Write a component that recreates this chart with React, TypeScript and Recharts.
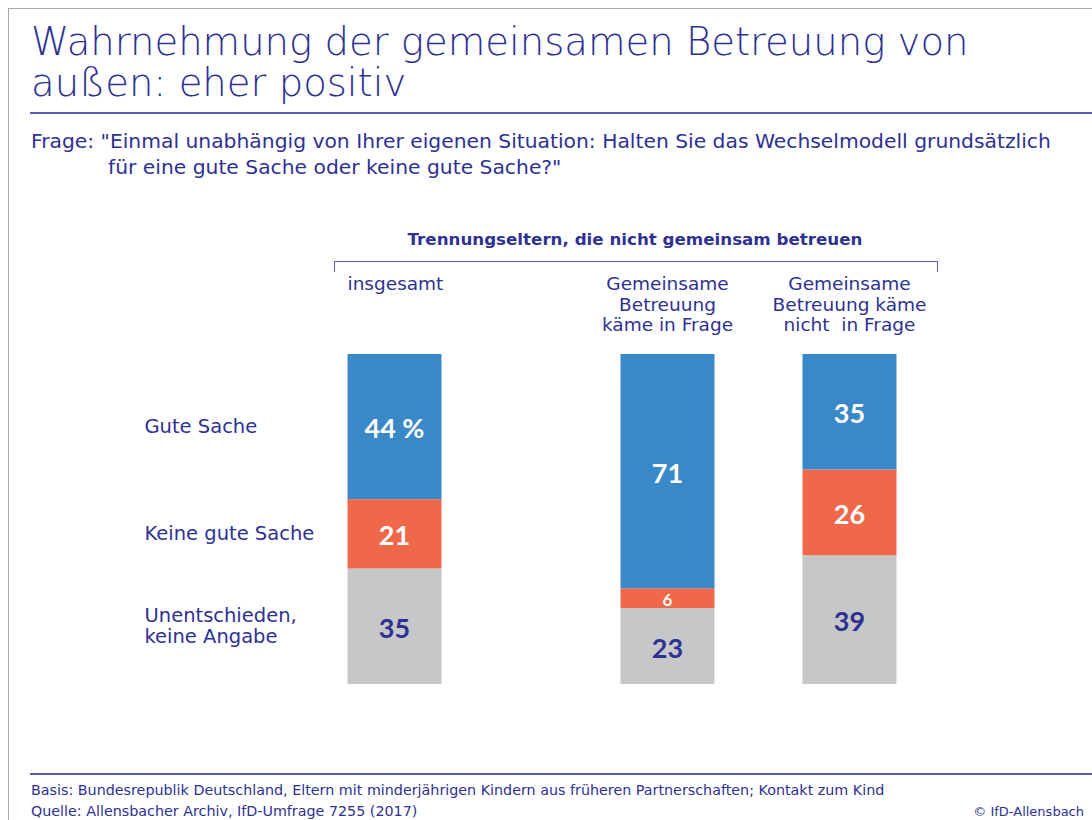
import { BarChart, Bar, XAxis, YAxis, LabelList } from 'recharts';

const BLUE = '#3A88C8';
const ORANGE = '#F0684A';
const GREY = '#C6C7C9';
const NAVY = '#2E3192';
const FONT = '"DejaVu Sans", sans-serif';
const NUM_FONT = 'Lato, "DejaVu Sans", sans-serif';

// category slots; empty ones only keep the gaps between the bars
const categories = ['insgesamt', '', '', 'Gemeinsame Betreuung käme in Frage', '', 'Gemeinsame Betreuung käme nicht  in Frage'];
const categoryLines = [['insgesamt'], [], [], ['Gemeinsame', 'Betreuung', 'käme in Frage'], [], ['Gemeinsame', 'Betreuung käme', 'nicht  in Frage']];
const guteSache = [44, null, null, 71, null, 35];
const keineGuteSache = [21, null, null, 6, null, 26];
const unentschieden = [35, null, null, 23, null, 39];
const rowLabels = {
  gute: ['Gute Sache'],
  keine: ['Keine gute Sache'],
  unent: ['Unentschieden,', 'keine Angabe'],
};

const data = categories.map((name, i) => ({
  name,
  gute: guteSache[i],
  keine: keineGuteSache[i],
  unent: unentschieden[i],
}));

// bars are a little wider than the category band
const WideBar = (props: any) => {
  const { x, y, width, height, fill } = props;
  if (!height) return null;
  const cx = x + width / 2;
  return <rect x={cx - 47} y={y} width={94} height={height} fill={fill} />;
};

function valueLabel(key: 'gute' | 'keine' | 'unent', color: string) {
  return (props: any) => {
    const { x, y, width, height, value, index } = props;
    if (value == null) return null;
    const cx = x + width / 2;
    const small = height < 30;
    const txt = key === 'gute' && index === 0 ? `${value} %` : `${value}`;
    const lines = rowLabels[key];
    return (
      <g>
        <text
          x={cx}
          y={y + height / 2 + 1}
          textAnchor="middle"
          dominantBaseline="central"
          fill={color}
          fontFamily={NUM_FONT}
          fontWeight="bold"
          fontSize={small ? 17 : 27}
        >
          {txt}
        </text>
        {index === 0 && (
          <text x={cx - 250} y={y + height / 2 - (lines.length - 1) * 10.5} fill={NAVY} fontFamily={FONT} fontSize={19.5}>
            {lines.map((l, j) => (
              <tspan key={j} x={cx - 250} dy={j === 0 ? 0 : 21} dominantBaseline="central">
                {l}
              </tspan>
            ))}
          </text>
        )}
      </g>
    );
  };
}

function CategoryTick(props: any) {
  const { x, y, index } = props;
  const lines = categoryLines[index] || [];
  if (!lines.length) return null;
  const first = index === 0;
  const tx = first ? x - 47 : x;
  return (
    <text
      x={tx}
      y={y - 56}
      textAnchor={first ? 'start' : 'middle'}
      fill={NAVY}
      fontFamily={FONT}
      fontSize={18.5}
      style={{ whiteSpace: 'pre' }}
    >
      {lines.map((l, j) => (
        <tspan key={j} x={tx} dy={j === 0 ? 0 : 20.5}>
          {l}
        </tspan>
      ))}
    </text>
  );
}

export default function App() {
  return (
    <div style={{ position: 'absolute', left: 0, top: 0, width: 1092, height: 820, background: '#fff', fontFamily: FONT, color: NAVY }}>
      <div style={{ position: 'absolute', left: 8, top: 8, right: 0, height: 1, background: '#A8A8A8' }} />
      <div style={{ position: 'absolute', left: 8, top: 8, width: 1, bottom: 0, background: '#A8A8A8' }} />

      <div style={{ position: 'absolute', left: 31, top: 23, fontSize: 38.6, lineHeight: '38px', fontWeight: 200, whiteSpace: 'nowrap' }}>
        Wahrnehmung der gemeinsamen Betreuung von
      </div>
      <div style={{ position: 'absolute', left: 31, top: 64, fontSize: 38.6, lineHeight: '38px', fontWeight: 200, whiteSpace: 'nowrap' }}>
        außen: eher positiv
      </div>
      <div style={{ position: 'absolute', left: 30, top: 112, right: 0, height: 1.5, background: '#5A5AB0' }} />

      <div style={{ position: 'absolute', left: 31, top: 128, fontSize: 20.3, lineHeight: '26px', whiteSpace: 'nowrap' }}>
        Frage: "Einmal unabhängig von Ihrer eigenen Situation: Halten Sie das Wechselmodell grundsätzlich
        <div style={{ paddingLeft: 77 }}>für eine gute Sache oder keine gute Sache?"</div>
      </div>

      <div style={{ position: 'absolute', left: 334, width: 602, top: 229, textAlign: 'center', fontSize: 16.7, fontWeight: 'bold' }}>
        Trennungseltern, die nicht gemeinsam betreuen
      </div>
      <div style={{ position: 'absolute', left: 334, width: 602, top: 261, height: 10, borderTop: '1px solid #5A5AB0', borderLeft: '1px solid #5A5AB0', borderRight: '1px solid #5A5AB0' }} />

      <div style={{ position: 'absolute', left: 0, top: 0 }}>
        <BarChart width={1092} height={820} data={data} margin={{ top: 324, bottom: 136, left: 349, right: 197 }} barCategoryGap={0}>
          <XAxis dataKey="name" orientation="top" height={30} axisLine={false} tickLine={false} tick={<CategoryTick />} interval={0} />
          <YAxis hide domain={[0, 100]} />
          <Bar dataKey="unent" stackId="a" fill={GREY} shape={<WideBar />} isAnimationActive={false}>
            <LabelList dataKey="unent" content={valueLabel('unent', NAVY)} />
          </Bar>
          <Bar dataKey="keine" stackId="a" fill={ORANGE} shape={<WideBar />} isAnimationActive={false}>
            <LabelList dataKey="keine" content={valueLabel('keine', '#fff')} />
          </Bar>
          <Bar dataKey="gute" stackId="a" fill={BLUE} shape={<WideBar />} isAnimationActive={false}>
            <LabelList dataKey="gute" content={valueLabel('gute', '#fff')} />
          </Bar>
        </BarChart>
      </div>

      <div style={{ position: 'absolute', left: 30, top: 773, right: 0, height: 1.5, background: '#5A5AB0' }} />
      <div style={{ position: 'absolute', left: 31, top: 780, fontSize: 14.3, lineHeight: '21px', whiteSpace: 'nowrap' }}>
        Basis: Bundesrepublik Deutschland, Eltern mit minderjährigen Kindern aus früheren Partnerschaften; Kontakt zum Kind
        <br />
        Quelle: Allensbacher Archiv, IfD-Umfrage 7255 (2017)
      </div>
      <div style={{ position: 'absolute', right: 8, top: 801, fontSize: 13, lineHeight: '21px' }}>© IfD-Allensbach</div>
    </div>
  );
}
